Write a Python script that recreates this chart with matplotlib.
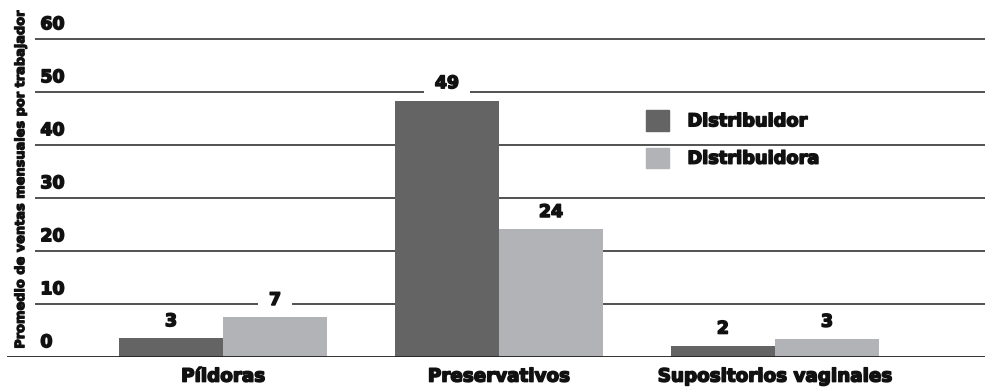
import matplotlib
matplotlib.use('Agg')
import matplotlib.pyplot as plt
import matplotlib.patheffects as pe
from matplotlib.patches import Patch
import numpy as np

# datos
categorias = ['Píldoras', 'Preservativos', 'Supositorios vaginales']
distribuidor = [3.4, 48.3, 2.0]
distribuidora = [7.4, 24.0, 3.3]
etiquetas_distribuidor = ['3', '49', '2']
etiquetas_distribuidora = ['7', '24', '3']
ticks_y = [0, 10, 20, 30, 40, 50, 60]

oscuro = '#646464'
claro = '#b2b3b6'
negro = '#111111'
plt.rcParams['font.family'] = ['DejaVu Sans']
grueso = [pe.withStroke(linewidth=1.1, foreground=negro)]

fig = plt.figure(figsize=(9.85, 3.87), dpi=100)
ax = fig.add_axes([0.0071, 0.0788, 0.9929, 0.849])

x = np.arange(len(categorias))
ancho = 0.377

ax.set_xlim(-0.783, 2.761)
ax.set_ylim(0, 62)

# lineas de la cuadricula
for t in ticks_y[1:]:
    ax.hlines(t, -0.681, 2.761, color='#222222', linewidth=1.1, zorder=1)
for t in ticks_y:
    ax.text(-0.662, t + 1.0, str(t), fontsize=12.5, fontweight='bold', ha='left', va='bottom',
            color=negro, path_effects=grueso)
ax.axhline(0, color='#222222', linewidth=1.3, zorder=4)

b1 = ax.bar(x - ancho / 2, distribuidor, ancho, color=oscuro, zorder=3)
b2 = ax.bar(x + ancho / 2, distribuidora, ancho, color=claro, zorder=3)

# etiquetas con fondo blanco que corta la cuadricula
for barras, etiquetas in [(b1, etiquetas_distribuidor), (b2, etiquetas_distribuidora)]:
    for b, e in zip(barras, etiquetas):
        ax.annotate('\u2002' + e + '\u2002', (b.get_x() + b.get_width() / 2, b.get_height()),
                    xytext=(0, 6), textcoords='offset points', ha='center', va='bottom',
                    fontsize=12.5, fontweight='bold', color=negro, zorder=5, path_effects=grueso,
                    bbox=dict(boxstyle='square,pad=0.12', fc='white', ec='none'))

ax.set_xticks(x)
ax.set_xticklabels(categorias, fontsize=13.2, fontweight='bold', color=negro)
for lab in ax.get_xticklabels():
    lab.set_path_effects(grueso)
ax.tick_params(axis='x', length=0, pad=8)
ax.set_yticks([])
for s in ax.spines.values():
    s.set_visible(False)

fig.text(0.021, 0.535, 'Promedio de ventas mensuales por trabajador', rotation=90,
         fontsize=9.3, fontweight='bold', ha='center', va='center', color=negro,
         path_effects=[pe.withStroke(linewidth=0.8, foreground=negro)])

handles = [Patch(color=oscuro, label='Distribuidor'), Patch(color=claro, label='Distribuidora')]
leg = ax.legend(handles=handles, loc='upper left', bbox_to_anchor=(0.653, 0.75), frameon=False,
                borderpad=0, borderaxespad=0,
                handlelength=1.3, handleheight=1.4, labelspacing=0.95, handletextpad=1.05,
                prop={'size': 12.8, 'weight': 'bold'})
for txt in leg.get_texts():
    txt.set_color(negro)
    txt.set_path_effects(grueso)

fig.savefig('out.png', dpi=100)
